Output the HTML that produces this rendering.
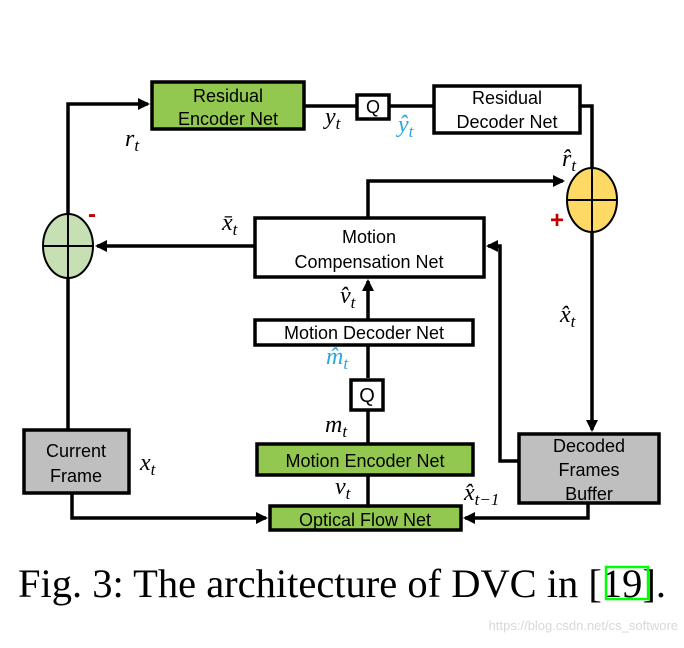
<!DOCTYPE html>
<html><head><style>
body{margin:0;background:#fff;width:684px;height:643px;overflow:hidden}
svg text{font-family:"Liberation Sans",sans-serif}
svg text.m{font-family:"Liberation Serif",serif;font-style:italic;font-size:24px}
svg text.cap{font-family:"Liberation Serif",serif;font-size:40px}
</style></head><body>
<svg width="684" height="643" viewBox="0 0 684 643" xmlns="http://www.w3.org/2000/svg">
<defs>
<marker id="b" markerWidth="12" markerHeight="12" refX="10" refY="6" orient="auto" markerUnits="userSpaceOnUse"><path d="M0,0 L12,6 L0,12 z" fill="#000"/></marker></defs>
<g stroke="#000" stroke-width="3.5" fill="none">
<polyline points="68,214 68,104 148,104" marker-end="url(#b)"/>
<line x1="68" y1="278" x2="68" y2="430"/>
<line x1="304" y1="106" x2="357" y2="106"/>
<line x1="389" y1="106" x2="434" y2="106"/>
<polyline points="580,106 592,106 592,168"/>
<line x1="592" y1="232" x2="592" y2="430" marker-end="url(#b)"/>
<polyline points="368,218 368,181 563,181" marker-end="url(#b)"/>
<line x1="255" y1="246" x2="97" y2="246" marker-end="url(#b)"/>
<polyline points="519,461 500,461 500,246 488,246" marker-end="url(#b)"/>
<polyline points="588,503 588,518 465,518" marker-end="url(#b)"/>
<polyline points="72,493 72,518 266,518" marker-end="url(#b)"/>
<line x1="368" y1="506" x2="368" y2="475"/>
<line x1="368" y1="444" x2="368" y2="410"/>
<line x1="368" y1="378" x2="368" y2="345"/>
<line x1="368" y1="320" x2="368" y2="281" marker-end="url(#b)"/>
</g>
<g stroke="#000" stroke-width="3.5">
<rect x="152" y="82" width="152" height="47" fill="#92c850"/>
<rect x="357" y="95" width="32" height="24" fill="#fff"/>
<rect x="434" y="86" width="146" height="47" fill="#fff"/>
<rect x="255" y="218" width="229" height="59" fill="#fff"/>
<rect x="255" y="320" width="218" height="25" fill="#fff"/>
<rect x="351" y="380" width="32" height="30" fill="#fff"/>
<rect x="257" y="444" width="216" height="31" fill="#92c850"/>
<rect x="270" y="506" width="191" height="24" fill="#92c850"/>
<rect x="24" y="430" width="105" height="63" fill="#bfbfbf"/>
<rect x="519" y="434" width="140" height="69" fill="#bfbfbf"/>
</g>
<g stroke="#000" stroke-width="2">
<ellipse cx="592" cy="200" rx="25" ry="32" fill="#ffd966"/>
<line x1="567" y1="200" x2="617" y2="200"/><line x1="592" y1="168" x2="592" y2="232"/>
<ellipse cx="68" cy="246" rx="25" ry="32" fill="#c6e0b4"/>
<line x1="43" y1="246" x2="93" y2="246"/><line x1="68" y1="214" x2="68" y2="278"/>
</g>
<g font-size="18" text-anchor="middle" fill="#000">
<text x="228" y="102">Residual</text><text x="228" y="125">Encoder Net</text>
<text x="373" y="113">Q</text>
<text x="507" y="104">Residual</text><text x="507" y="128">Decoder Net</text>
<text x="369" y="243">Motion</text><text x="369" y="268">Compensation Net</text>
<text x="364" y="339">Motion Decoder Net</text>
<text x="367" y="402" font-size="20">Q</text>
<text x="365" y="467">Motion Encoder Net</text>
<text x="365" y="526">Optical Flow Net</text>
<text x="76" y="457">Current</text><text x="76" y="482">Frame</text>
<text x="589" y="452">Decoded</text><text x="589" y="476">Frames</text><text x="589" y="500">Buffer</text>
</g>
<g fill="#c00000" font-weight="bold" font-size="24" text-anchor="middle">
<text x="92" y="222">-</text><text x="557" y="228">+</text>
</g>
<text class="m" x="125" y="146">r<tspan font-size="17" dy="5">t</tspan></text>
<text class="m" x="325" y="124">y<tspan font-size="17" dy="5">t</tspan></text>
<text class="m" x="398" y="132" fill="#2aa7df">ŷ<tspan font-size="17" dy="5">t</tspan></text>
<text class="m" x="562" y="166">r̂<tspan font-size="17" dy="5">t</tspan></text>
<text class="m" x="222" y="230">x̄<tspan font-size="17" dy="5">t</tspan></text>
<text class="m" x="340" y="303">v̂<tspan font-size="17" dy="5">t</tspan></text>
<text class="m" x="560" y="322">x̂<tspan font-size="17" dy="5">t</tspan></text>
<text class="m" x="326" y="364" fill="#2aa7df">m̂<tspan font-size="17" dy="5">t</tspan></text>
<text class="m" x="325" y="432">m<tspan font-size="17" dy="5">t</tspan></text>
<text class="m" x="140" y="470">x<tspan font-size="17" dy="5">t</tspan></text>
<text class="m" x="335" y="494">v<tspan font-size="17" dy="5">t</tspan></text>
<text class="m" x="464" y="500">x̂<tspan font-size="17" dy="5">t−1</tspan></text>
<text class="cap" x="18" y="597" textLength="648" lengthAdjust="spacingAndGlyphs">Fig. 3: The architecture of DVC in [19].</text>
<rect x="606" y="567" width="42" height="32" fill="none" stroke="#00ff00" stroke-width="2.5"/>
<text x="678" y="630" font-size="13" fill="#d8d8d8" text-anchor="end">https://blog.csdn.net/cs_softwore</text>
</svg>
</body></html>
